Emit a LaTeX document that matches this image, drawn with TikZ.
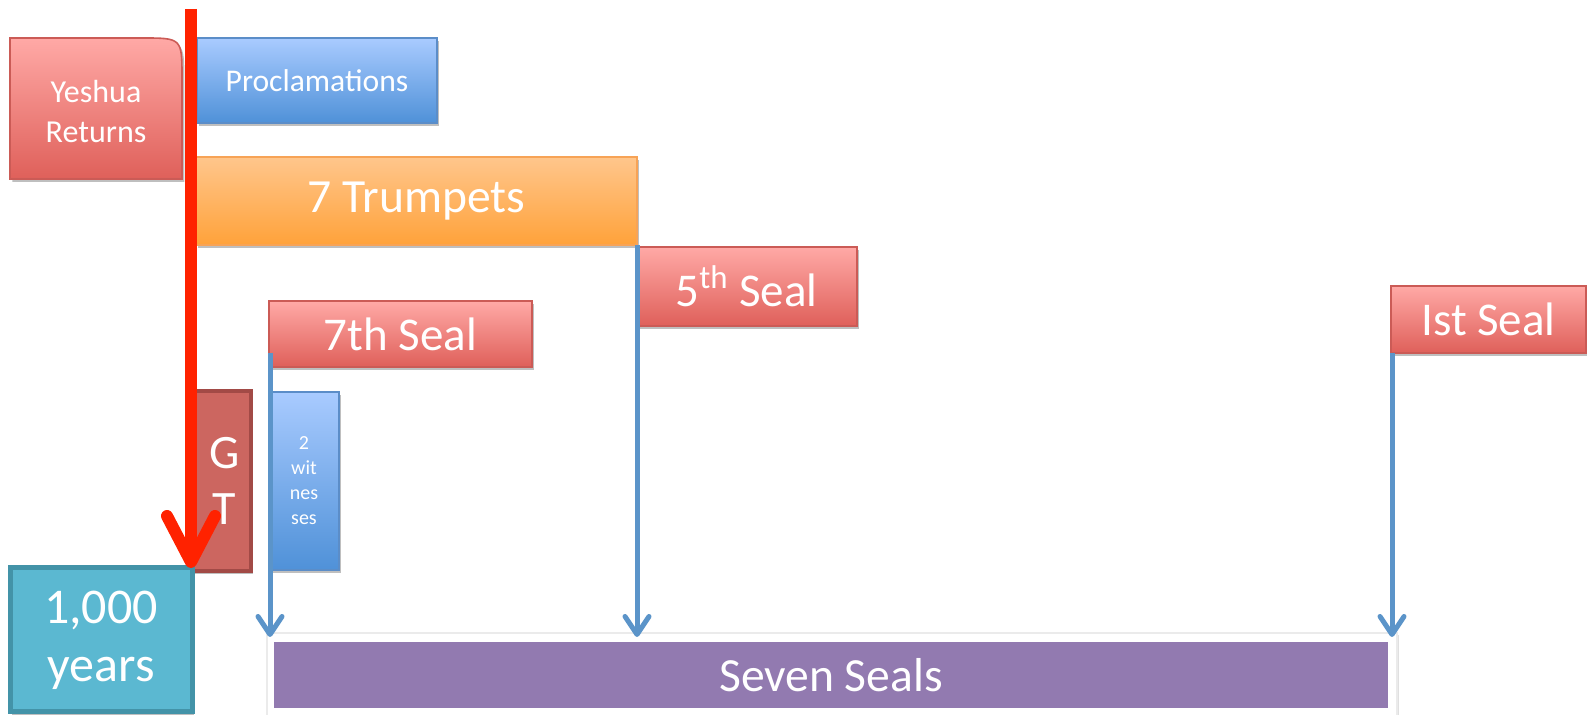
\documentclass[tikz,border=0pt]{standalone}
\usepackage{fontspec}
\setmainfont{Carlito}
\usetikzlibrary{arrows.meta,shadows,calc}
\definecolor{rtop}{HTML}{FFA9A6}
\definecolor{rbot}{HTML}{DF605A}
\definecolor{rbd}{HTML}{CB5B56}
\definecolor{btop}{HTML}{A9CBFF}
\definecolor{bbot}{HTML}{4F91D8}
\definecolor{bbd}{HTML}{5B8DC8}
\definecolor{otop}{HTML}{FFC68C}
\definecolor{obot}{HTML}{FFA23A}
\definecolor{obd}{HTML}{F7A356}
\definecolor{gtfill}{HTML}{CC6660}
\definecolor{gtbd}{HTML}{A24A46}
\definecolor{teal}{HTML}{5BB8D1}
\definecolor{tealbd}{HTML}{4393A8}
\definecolor{purp}{HTML}{927AB0}
\definecolor{arrblue}{HTML}{5B94C9}
\definecolor{arrred}{HTML}{FF2200}
\begin{document}
\begin{tikzpicture}[x=0.5pt,y=-0.5pt,
  shad/.style={drop shadow={shadow xshift=1.2pt,shadow yshift=-1.5pt,opacity=0.25,fill=black}},
  box/.style={draw,line width=0.6pt,inner sep=0pt,outer sep=0pt,anchor=north west,text=white,align=center,shad},
  redbox/.style={box,draw=rbd,top color=rtop,bottom color=rbot,font=\fontsize{23.5}{28}\selectfont},
  bluebox/.style={box,draw=bbd,top color=btop,bottom color=bbot},
  orangebox/.style={box,draw=obd,top color=otop,bottom color=obot,font=\fontsize{23.8}{28}\selectfont},
  bluearr/.style={draw=arrblue,line width=2.5pt,shorten >=-2pt,-{Straight Barb[length=9pt,width=12pt,round]}},
  redarr/.style={draw=arrred,line width=6pt,-{Straight Barb[length=23pt,width=24pt,round]}}
]
\useasboundingbox (0,0) rectangle (1587,715);

% Yeshua Returns (rounded top-right corner)
\node[anchor=north west,minimum width=86pt,minimum height=70.5pt,inner sep=0pt,outer sep=0pt] (yrbox) at (10,38) {};
\draw[draw=rbd,line width=0.8pt,top color=rtop,bottom color=rbot,shad]
  (yrbox.south west) -- (yrbox.north west) -- ($(yrbox.north east)+(-40,0)$)
  .. controls (yrbox.north east) .. ($(yrbox.north east)+(0,40)$) -- (yrbox.south east) -- cycle;
\node[text=white,align=center,font=\fontsize{16}{20}\selectfont] (yrtext) at ($(yrbox.center)+(0,3)$) {Yeshua\\Returns};

% top boxes
\node[bluebox,minimum width=120pt,minimum height=42.5pt,font=\fontsize{15.8}{19}\selectfont] (procl) at (197,38) {Proclamations};
\node[orangebox,minimum width=220.5pt,minimum height=44pt] (trump) at (196,157) {7 Trumpets};
\node[redbox,minimum width=110.5pt,minimum height=39.5pt] (s5) at (636,247) {5\textsuperscript{th} Seal};
\node[redbox,minimum width=131.5pt,minimum height=33pt] (s7) at (269,301) {7th Seal};
\node[redbox,minimum width=97.5pt,minimum height=33.5pt] (s1) at (1391,286) {Ist Seal};

% GT and witnesses
\node[box,draw=gtbd,line width=2pt,fill=gtfill,minimum width=29.5pt,minimum height=90pt,font=\fontsize{24}{28}\selectfont] (gt) at (192,391) {\hspace*{3pt}G\\\hspace*{3pt}T};
\node[bluebox,minimum width=35pt,minimum height=89pt,font=\fontsize{10}{12.5}\selectfont] (wit) at (269,392) {2\\wit\\nes\\ses};

% 1,000 years
\node[box,draw=tealbd,line width=2.5pt,fill=teal,minimum width=91pt,minimum height=72pt,font=\fontsize{25}{29}\selectfont] (yrs) at (10,568) {1,000\\years};

% Seven Seals
\node[anchor=north west,draw=black!8,fill=white,line width=0.6pt,inner sep=0pt,outer sep=0pt,minimum width=565pt,minimum height=50pt,drop shadow={shadow xshift=0.8pt,shadow yshift=-0.8pt,opacity=0.12,fill=black}] (frame) at (267,633) {};
\node[anchor=north west,fill=purp,inner sep=0pt,outer sep=0pt,minimum width=557pt,minimum height=33pt,text=white,font=\fontsize{23.8}{28}\selectfont] (seals) at (274,642) {Seven Seals};

% blue arrows
\coordinate (a7) at ($(s7.south west)+(1,-14)$);
\draw[bluearr] (a7) -- (a7 |- frame.north);
\draw[bluearr] (trump.south east) -- (trump.south east |- frame.north);
\coordinate (a1) at ($(s1.south west)+(1,0)$);
\draw[bluearr] (a1) -- (a1 |- frame.north);

% red arrow
\coordinate (rtop) at (191,9);
\draw[redarr] (rtop) -- (rtop |- yrs.north);
\end{tikzpicture}
\end{document}
